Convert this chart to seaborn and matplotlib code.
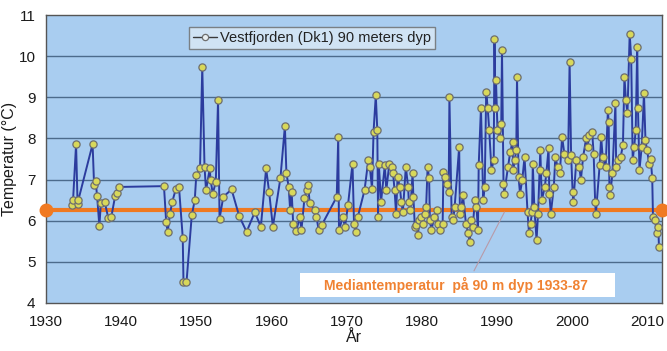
import matplotlib
matplotlib.use("Agg")
import matplotlib.pyplot as plt
import seaborn as sns
import pandas as pd
from matplotlib.patches import Rectangle
from matplotlib.ticker import MultipleLocator

# Observation times (decimal year) and temperature at 90 m depth, Vestfjorden (Dk1)
years = [
    1933.4, 1933.6, 1934.0, 1934.2, 1934.3, 1936.2, 1936.4, 1936.6, 1936.8, 1937.1,
    1937.3, 1937.8, 1938.3, 1938.7, 1939.2, 1939.5, 1939.7, 1945.7, 1946.0, 1946.2,
    1946.5, 1946.8, 1947.3, 1947.7, 1948.2, 1948.3, 1948.7, 1949.4, 1949.8, 1950.0,
    1950.5, 1950.8, 1951.1, 1951.3, 1951.8, 1951.9, 1952.2, 1952.6, 1952.9, 1953.1,
    1953.6, 1954.7, 1955.7, 1956.7, 1957.8, 1958.6, 1959.3, 1959.7, 1960.2, 1961.2,
    1961.8, 1962.0, 1962.3, 1962.5, 1962.7, 1962.9, 1963.3, 1963.8, 1964.0, 1964.4,
    1964.7, 1964.9, 1965.1, 1965.8, 1966.0, 1966.3, 1966.7, 1968.7, 1968.9, 1969.0,
    1969.5, 1969.8, 1970.2, 1970.8, 1971.0, 1971.2, 1971.5, 1972.4, 1972.9, 1973.1,
    1973.4, 1973.6, 1973.9, 1974.1, 1974.2, 1974.3, 1974.6, 1975.1, 1975.3, 1975.7,
    1976.0, 1976.2, 1976.4, 1976.6, 1976.8, 1977.1, 1977.3, 1977.5, 1977.9, 1978.2,
    1978.3, 1978.5, 1978.8, 1978.9, 1979.1, 1979.3, 1979.5, 1979.7, 1979.9, 1980.2,
    1980.4, 1980.6, 1980.8, 1981.0, 1981.1, 1981.3, 1981.7, 1982.0, 1982.2, 1982.4,
    1982.8, 1982.9, 1983.1, 1983.4, 1983.6, 1983.7, 1984.0, 1984.2, 1984.4, 1985.0,
    1985.1, 1985.3, 1985.5, 1985.9, 1986.2, 1986.4, 1986.6, 1986.8, 1987.1, 1987.3,
    1987.5, 1987.6, 1987.9, 1988.2, 1988.4, 1988.6, 1988.8, 1989.0, 1989.3, 1989.6,
    1989.7, 1989.8, 1989.9, 1990.1, 1990.4, 1990.6, 1990.7, 1990.9, 1991.0, 1991.5,
    1991.8, 1992.1, 1992.2, 1992.4, 1992.6, 1992.7, 1992.9, 1993.1, 1993.4, 1993.7,
    1994.1, 1994.3, 1994.5, 1994.7, 1994.8, 1995.0, 1995.3, 1995.5, 1995.7, 1995.8,
    1996.0, 1996.4, 1996.6, 1996.9, 1997.0, 1997.2, 1997.6, 1997.8, 1998.1, 1998.4,
    1998.7, 1999.0, 1999.5, 1999.7, 1999.9, 2000.1, 2000.2, 2000.6, 2001.0, 2001.2,
    2001.5, 2001.9, 2002.1, 2002.3, 2002.7, 2002.9, 2003.1, 2003.2, 2003.7, 2003.9,
    2004.1, 2004.5, 2004.8, 2004.9, 2005.0, 2005.1, 2005.4, 2005.8, 2005.9, 2006.2,
    2006.5, 2006.8, 2007.0, 2007.2, 2007.4, 2007.7, 2007.9, 2008.1, 2008.3, 2008.5,
    2008.7, 2008.8, 2009.0, 2009.3, 2009.6, 2009.8, 2010.0, 2010.3, 2010.5, 2010.7,
    2010.8, 2011.1, 2011.3, 2011.5, 2011.6,
]
temps = [
    6.38, 6.50, 7.86, 6.40, 6.50, 7.86, 6.86, 6.96, 6.60, 5.87,
    6.42, 6.46, 6.06, 6.10, 6.60, 6.68, 6.82, 6.84, 5.96, 5.73,
    6.16, 6.46, 6.78, 6.82, 5.59, 4.50, 4.50, 6.13, 6.50, 7.10,
    7.27, 9.74, 7.31, 6.74, 7.27, 6.99, 6.66, 6.94, 8.93, 6.05,
    6.58, 6.76, 6.12, 5.73, 6.21, 5.85, 7.27, 6.70, 5.85, 7.03,
    8.30, 7.16, 6.82, 6.26, 6.70, 5.93, 5.75, 6.09, 5.77, 6.54,
    6.74, 6.86, 6.42, 6.26, 6.09, 5.77, 5.89, 6.58, 8.04, 5.77,
    6.09, 5.85, 6.38, 7.39, 5.93, 5.73, 6.09, 6.74, 7.47, 7.31,
    6.78, 8.16, 9.05, 8.20, 6.09, 7.39, 6.46, 7.35, 6.74, 7.39,
    7.31, 7.15, 6.74, 6.17, 7.07, 6.82, 6.46, 6.21, 7.31, 6.82,
    6.46, 6.26, 7.15, 6.58, 5.85, 5.90, 5.65, 6.01, 6.09, 5.93,
    6.17, 6.34, 7.31, 7.03, 6.01, 5.77, 6.09, 6.26, 5.93, 5.77,
    5.93, 7.19, 7.07, 6.90, 6.70, 9.01, 6.09, 6.01, 6.34, 7.80,
    6.17, 6.34, 6.62, 5.93, 5.69, 5.48, 6.01, 5.85, 6.50, 6.34,
    5.77, 7.35, 8.75, 6.50, 6.82, 9.14, 8.73, 8.20, 7.23, 7.47,
    10.43, 8.73, 9.42, 8.20, 8.00, 8.36, 10.15, 6.90, 6.66, 7.31,
    7.67, 7.92, 7.23, 7.47, 7.72, 9.50, 7.07, 6.66, 6.99, 7.55,
    6.21, 5.69, 5.93, 6.21, 7.39, 6.34, 5.53, 6.17, 7.23, 7.72,
    6.50, 6.82, 7.15, 7.76, 6.66, 6.17, 6.82, 7.55, 7.31, 7.15,
    8.04, 7.63, 7.47, 9.86, 7.60, 6.70, 6.46, 7.47, 7.31, 6.99,
    7.55, 8.00, 7.80, 8.08, 8.16, 7.63, 6.46, 6.17, 7.35, 8.04,
    7.55, 7.31, 8.69, 8.40, 6.82, 6.62, 7.15, 8.85, 7.31, 7.47,
    7.55, 7.84, 9.50, 8.93, 8.61, 10.55, 9.94, 7.47, 7.80, 8.20,
    10.23, 8.73, 7.23, 7.80, 9.10, 7.96, 7.72, 7.39, 7.51, 7.03,
    6.09, 6.01, 5.69, 5.85, 5.36,
]

series_label = "Vestfjorden (Dk1) 90 meters dyp"
median_temp = 6.27
median_label = "Mediantemperatur  på 90 m dyp 1933-87"
x_ticks = [1930, 1940, 1950, 1960, 1970, 1980, 1990, 2000, 2010]
y_ticks = [4, 5, 6, 7, 8, 9, 10, 11]

df = pd.DataFrame({"År": years, "Temperatur": temps})

sns.set_style("white")
plt.rcParams["font.family"] = ["Liberation Sans", "DejaVu Sans"]

fig = plt.figure(figsize=(6.67, 3.51), dpi=100)
ax = fig.add_axes([0.069, 0.137, 0.9235, 0.82])
ax.set_facecolor("#a9cdf0")

for y in y_ticks[1:-1]:
    ax.axhline(y, color="#4c6b8c", lw=1.0, zorder=1)

ax.axhline(median_temp, color="#f07a22", lw=3.0, zorder=2)
ax.plot([1930, 2012], [median_temp, median_temp], "o", color="#f07a22",
        ms=9, zorder=6, clip_on=False)

sns.lineplot(data=df, x="År", y="Temperatur", ax=ax, estimator=None, sort=False,
             color="#2c3c9e", lw=1.4, marker="o", markersize=5.2,
             markerfacecolor="#d8d85a", markeredgecolor="#6e6e6e",
             markeredgewidth=0.9, label=series_label, zorder=4)

ax.set_xlim(1930, 2012)
ax.set_ylim(4, 11)
ax.set_xticks(x_ticks)
ax.set_yticks(y_ticks)
ax.xaxis.set_minor_locator(MultipleLocator(1))
ax.yaxis.set_minor_locator(MultipleLocator(0.2))
ax.tick_params(axis="both", which="major", direction="inout", length=5,
               width=1, color="#333333", labelsize=11, labelcolor="#1a1a1a")
ax.tick_params(axis="x", which="major", pad=6)
ax.tick_params(axis="y", which="major", pad=5)
ax.tick_params(axis="both", which="minor", direction="in", length=2.5,
               width=0.8, color="#333333")
for s in ax.spines.values():
    s.set_color("#555555")
    s.set_linewidth(1.0)

ax.set_xlabel("År", fontsize=11.5, color="#1a1a1a", labelpad=1)
ax.set_ylabel("Temperatur (°C)", fontsize=11.5, color="#1a1a1a")
ax.yaxis.set_label_coords(-0.047, 0.5)

leg = ax.legend(loc="upper left", bbox_to_anchor=(0.232, 0.96), fontsize=10.5,
                frameon=True, fancybox=False, handlelength=1.6,
                handletextpad=0.2, borderpad=0.3, borderaxespad=0)
leg.get_frame().set_facecolor("#dbe9f6")
leg.get_frame().set_edgecolor("#6a6a6a")
leg.get_frame().set_linewidth(1.0)
for t in leg.get_texts():
    t.set_color("#222222")
for h in leg.legend_handles:
    h.set_markersize(4.5)
    h.set_linewidth(1.0)
    h.set_color("#3a3a3a")
    h.set_markerfacecolor("#e8eef0")

# label box for the median line with a thin leader
ax.add_patch(Rectangle((0.412, 0.021), 0.512, 0.083, transform=ax.transAxes,
                       facecolor="white", edgecolor="none", zorder=7))
ax.annotate("", xy=(1991.2, median_temp), xytext=(1986.8, 4.72),
            arrowprops=dict(arrowstyle="-", color="#b89aa8", lw=0.8), zorder=5)
ax.text(0.666, 0.062, median_label, transform=ax.transAxes, ha="center",
        va="center", fontsize=10, fontweight="bold", color="#f08232", zorder=8)

fig.savefig("out.png", dpi=100)
